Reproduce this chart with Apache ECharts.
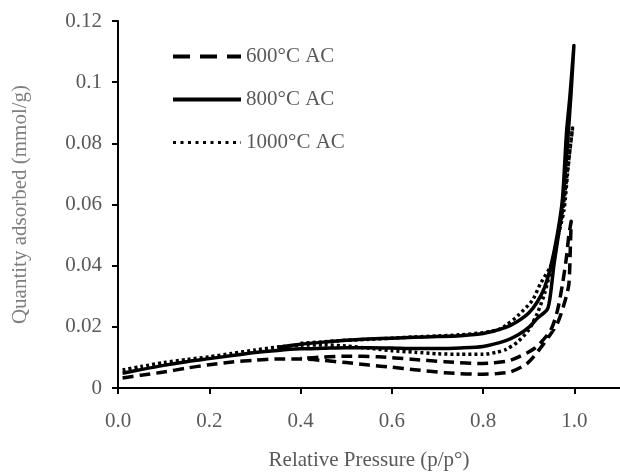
<!DOCTYPE html>
<html>
<head>
<meta charset="utf-8">
<script src="https://cdn.jsdelivr.net/npm/echarts@6/dist/echarts.min.js"></script>
<style>html,body{margin:0;padding:0;background:#fff}#c{width:620px;height:476px}</style>
</head>
<body>
<div id="c"></div>
<script>
// Series names
const seriesNames = ['600°C AC', '800°C AC', '1000°C AC'];
// Adsorption / desorption branches [p/p°, mmol/g]
const ads600 = [[0.01,0.0033],[0.05,0.0042],[0.1,0.0052],[0.15,0.0065],[0.2,0.0076],[0.25,0.0085],[0.3,0.0091],[0.35,0.0095],[0.4,0.0095],[0.45,0.009],[0.5,0.0083],[0.55,0.0075],[0.6,0.0068],[0.65,0.006],[0.716,0.005],[0.789,0.0045],[0.83,0.0047],[0.861,0.0053],[0.898,0.0082],[0.934,0.0147],[0.963,0.0212],[0.98,0.0287],[0.988,0.034],[0.991,0.045],[0.993,0.0545]];
const des600 = [[0.993,0.0545],[0.988,0.05],[0.982,0.042],[0.974,0.034],[0.963,0.0254],[0.948,0.0189],[0.913,0.013],[0.861,0.0091],[0.82,0.0082],[0.789,0.008],[0.716,0.0086],[0.643,0.0094],[0.571,0.0102],[0.5,0.0104],[0.45,0.0101],[0.4,0.0097]];
const ads800 = [[0.01,0.0048],[0.05,0.006],[0.1,0.0074],[0.15,0.0086],[0.2,0.0096],[0.25,0.0106],[0.3,0.0116],[0.35,0.0123],[0.4,0.0128],[0.45,0.013],[0.5,0.0132],[0.55,0.0132],[0.6,0.0131],[0.65,0.0129],[0.7,0.0129],[0.75,0.0131],[0.8,0.0136],[0.85,0.0155],[0.876,0.0173],[0.9,0.0198],[0.919,0.0228],[0.941,0.0258],[0.948,0.031],[0.955,0.04],[0.965,0.05],[0.975,0.062],[0.985,0.08],[0.993,0.097],[0.999,0.112]];
const des800 = [[0.999,0.112],[0.99,0.095],[0.983,0.084],[0.974,0.062],[0.963,0.0505],[0.948,0.0395],[0.935,0.033],[0.919,0.0282],[0.9,0.0245],[0.876,0.0218],[0.85,0.0198],[0.8,0.0178],[0.75,0.0171],[0.7,0.0168],[0.65,0.0166],[0.6,0.0163],[0.55,0.016],[0.5,0.0156],[0.45,0.015],[0.4,0.0143],[0.35,0.0133]];
const ads1000 = [[0.01,0.0059],[0.05,0.007],[0.1,0.0083],[0.15,0.0093],[0.2,0.0102],[0.25,0.0113],[0.3,0.0124],[0.35,0.0134],[0.4,0.014],[0.45,0.0141],[0.5,0.0137],[0.55,0.013],[0.6,0.0122],[0.65,0.0117],[0.7,0.0112],[0.75,0.011],[0.8,0.011],[0.83,0.0117],[0.85,0.0126],[0.876,0.0151],[0.9,0.019],[0.919,0.0245],[0.935,0.031],[0.95,0.04],[0.96,0.047],[0.977,0.058],[0.985,0.07],[0.991,0.079],[0.996,0.085]];
const des1000 = [[0.996,0.085],[0.988,0.075],[0.976,0.06],[0.965,0.05],[0.952,0.041],[0.926,0.0342],[0.908,0.0287],[0.876,0.0236],[0.85,0.0205],[0.832,0.019],[0.8,0.0181],[0.75,0.0174],[0.7,0.017],[0.65,0.0167],[0.6,0.0163],[0.55,0.0159],[0.5,0.0156],[0.45,0.0151],[0.4,0.0146]];
// Axis ticks
const xTicks = [0.0, 0.2, 0.4, 0.6, 0.8, 1.0];
const yTicks = [0, 0.02, 0.04, 0.06, 0.08, 0.1, 0.12];

const FONT = 'Liberation Serif';
const GREY = '#595959';
const chart = echarts.init(document.getElementById('c'), null, {renderer: 'canvas'});
const styles = [
  {type: [11, 6], width: 3.5},
  {type: 'solid', width: 3.5},
  {type: [3, 3], width: 3.5}
];
const loops = [ads600.concat(des600), ads800.concat(des800), ads1000.concat(des1000)];
chart.setOption({
  animation: false,
  backgroundColor: '#fff',
  grid: {left: 118, right: -3, top: 21, bottom: 88, containLabel: false},
  legend: {
    orient: 'vertical', left: 166, top: 40, itemWidth: 68, itemHeight: 12, itemGap: 20,
    itemStyle: {opacity: 0},
    textStyle: {fontFamily: FONT, fontSize: 21, color: GREY, lineHeight: 23},
    data: [
      {name: seriesNames[0], lineStyle: {type: [17, 10], width: 4}},
      {name: seriesNames[1], lineStyle: {type: 'solid', width: 4}},
      {name: seriesNames[2], lineStyle: {type: [3, 4.5], width: 3}}
    ]
  },
  xAxis: {
    type: 'value', min: 0, max: 1.1, interval: 0.2,
    name: 'Relative Pressure (p/p°)', nameLocation: 'middle', nameGap: 62,
    nameTextStyle: {fontFamily: FONT, fontSize: 21, color: GREY},
    axisLine: {show: true, lineStyle: {color: '#000', width: 2}},
    axisTick: {show: true, length: 6, lineStyle: {color: '#000', width: 2}},
    splitLine: {show: false},
    axisLabel: {
      fontFamily: FONT, fontSize: 21, color: GREY, margin: 23, showMaxLabel: false,
      formatter: v => xTicks.some(t => Math.abs(t - v) < 1e-9) ? v.toFixed(1) : ''
    }
  },
  yAxis: {
    type: 'value', min: 0, max: 0.12, interval: 0.02,
    name: 'Quantity adsorbed (mmol/g)', nameLocation: 'middle', nameGap: 87,
    nameTextStyle: {fontFamily: FONT, fontSize: 21, color: '#7f7f7f'},
    axisLine: {show: true, lineStyle: {color: '#000', width: 2}},
    axisTick: {show: true, length: 6, lineStyle: {color: '#000', width: 2}},
    splitLine: {show: false},
    axisLabel: {
      fontFamily: FONT, fontSize: 21, color: GREY, margin: 16,
      formatter: v => yTicks.some(t => Math.abs(t - v) < 1e-9) ? String(+v.toFixed(2)) : ''
    }
  },
  series: loops.map((d, i) => ({
    name: seriesNames[i], type: 'line', data: d, smooth: 0.25, symbol: 'none', showSymbol: false,
    lineStyle: Object.assign({color: '#000', cap: 'butt', join: 'round'}, styles[i]),
    itemStyle: {color: '#000'}
  }))
});
</script>
</body>
</html>
